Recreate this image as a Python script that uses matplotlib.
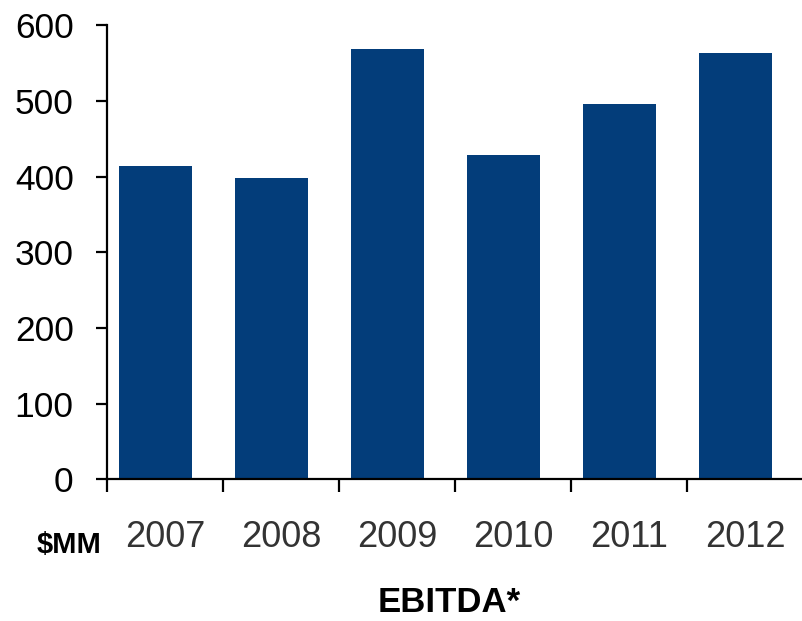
import matplotlib
matplotlib.use('Agg')
import matplotlib.pyplot as plt

years = ['2007', '2008', '2009', '2010', '2011', '2012']
ebitda = [414, 398, 568, 428, 496, 563]

plt.rcParams['font.family'] = ['Liberation Sans', 'DejaVu Sans']

fig = plt.figure(figsize=(8.02, 6.21), dpi=100)
ax = fig.add_axes([0.1334, 0.2279, 0.8678, 0.7318])

pos = list(range(len(years)))
ax.bar([p - 0.08 for p in pos], ebitda, width=0.63, color='#033D7A')

ax.set_xlim(-0.5, len(years) - 0.5)
ax.set_ylim(0, 600)
ax.set_yticks([0, 100, 200, 300, 400, 500, 600])
# category boundaries get the tick marks, year labels sit between them
ax.set_xticks([p - 0.5 for p in pos])
ax.set_xticklabels([])
ax.set_xticks(pos, minor=True)
ax.set_xticklabels(years, minor=True)

for s in ['top', 'right']:
    ax.spines[s].set_visible(False)
for s in ['left', 'bottom']:
    ax.spines[s].set_linewidth(1.6)

ax.tick_params(axis='y', direction='out', length=8, width=1.6, labelsize=25.5, pad=16)
ax.tick_params(axis='x', which='major', direction='out', length=9.5, width=1.6)
ax.tick_params(axis='x', which='minor', length=0, labelsize=26, pad=29, labelcolor='#333333')

fig.text(0.0867, 0.1095, r'\$MM', fontsize=21, fontweight='bold', ha='center', va='baseline')
fig.text(0.560, 0.014, 'EBITDA*', fontsize=25, fontweight='bold', ha='center', va='baseline')

fig.savefig('out.png', dpi=100)
